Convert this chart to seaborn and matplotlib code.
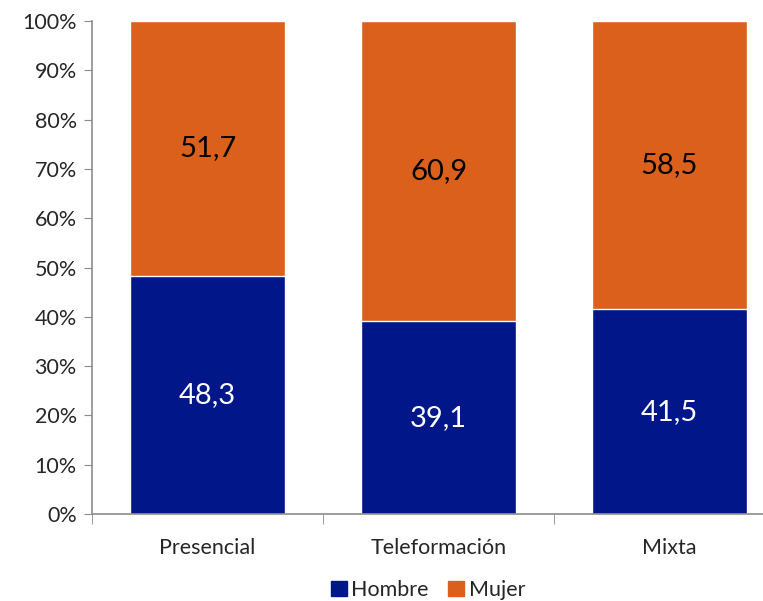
import numpy as np
import pandas as pd
import matplotlib
matplotlib.use("Agg")
import matplotlib.pyplot as plt
import seaborn as sns
from matplotlib.patches import Patch
from matplotlib.ticker import FixedLocator, PercentFormatter

categorias = ["Presencial", "Teleformación", "Mixta"]
hombre = [48.3, 39.1, 41.5]
mujer = [51.7, 60.9, 58.5]

azul = "#001689"
naranja = "#DA601B"

sns.set_style("white")
plt.rcParams["font.family"] = ["Lato", "DejaVu Sans"]

df = pd.DataFrame({"cat": categorias, "hombre": hombre, "mujer": mujer})
df["total"] = df["hombre"] + df["mujer"]

fig = plt.figure(figsize=(7.63, 6.01), dpi=100)
ax = fig.add_axes([92 / 763, 87 / 601, 693 / 763, 493 / 601])

sns.barplot(data=df, x="cat", y="total", color=naranja, width=0.667,
            saturation=1, ax=ax)
sns.barplot(data=df, x="cat", y="hombre", color=azul, width=0.667,
            saturation=1, ax=ax)

for i, (h, m) in enumerate(zip(hombre, mujer)):
    ax.text(i, h / 2, f"{h:.1f}".replace(".", ","), ha="center", va="center",
            color="white", fontsize=21)
    ax.text(i, h + m / 2, f"{m:.1f}".replace(".", ","), ha="center",
            va="center", color="black", fontsize=21)

ax.set_xlim(-0.5, 2.5)
ax.set_ylim(0, 100)
ax.set_yticks(np.arange(0, 101, 10))
ax.yaxis.set_major_formatter(PercentFormatter(decimals=0))
ax.set_xlabel("")
ax.set_ylabel("")

# ticks between categories on x
ax.xaxis.set_minor_locator(FixedLocator([-0.5, 0.5, 1.5, 2.5]))
ax.tick_params(axis="x", which="major", length=0, labelsize=15.5, pad=17)
ax.tick_params(axis="x", which="minor", length=7, color="#8c8c8c",
               direction="out", bottom=True)
ax.tick_params(axis="y", length=6, color="#8c8c8c", direction="out",
               left=True, labelsize=15.5, pad=5)

for s in ["top", "right"]:
    ax.spines[s].set_visible(False)
for s in ["left", "bottom"]:
    ax.spines[s].set_color("#8c8c8c")
    ax.spines[s].set_linewidth(1.2)

handles = [Patch(color=azul, label="Hombre"), Patch(color=naranja, label="Mujer")]
fig.legend(handles=handles, loc="center", bbox_to_anchor=(428 / 763, 11 / 601),
           ncol=2, frameon=False, fontsize=15.5, handlelength=0.75,
           handleheight=0.75, handletextpad=0.2, columnspacing=0.9)

fig.savefig("out.png", dpi=100)
